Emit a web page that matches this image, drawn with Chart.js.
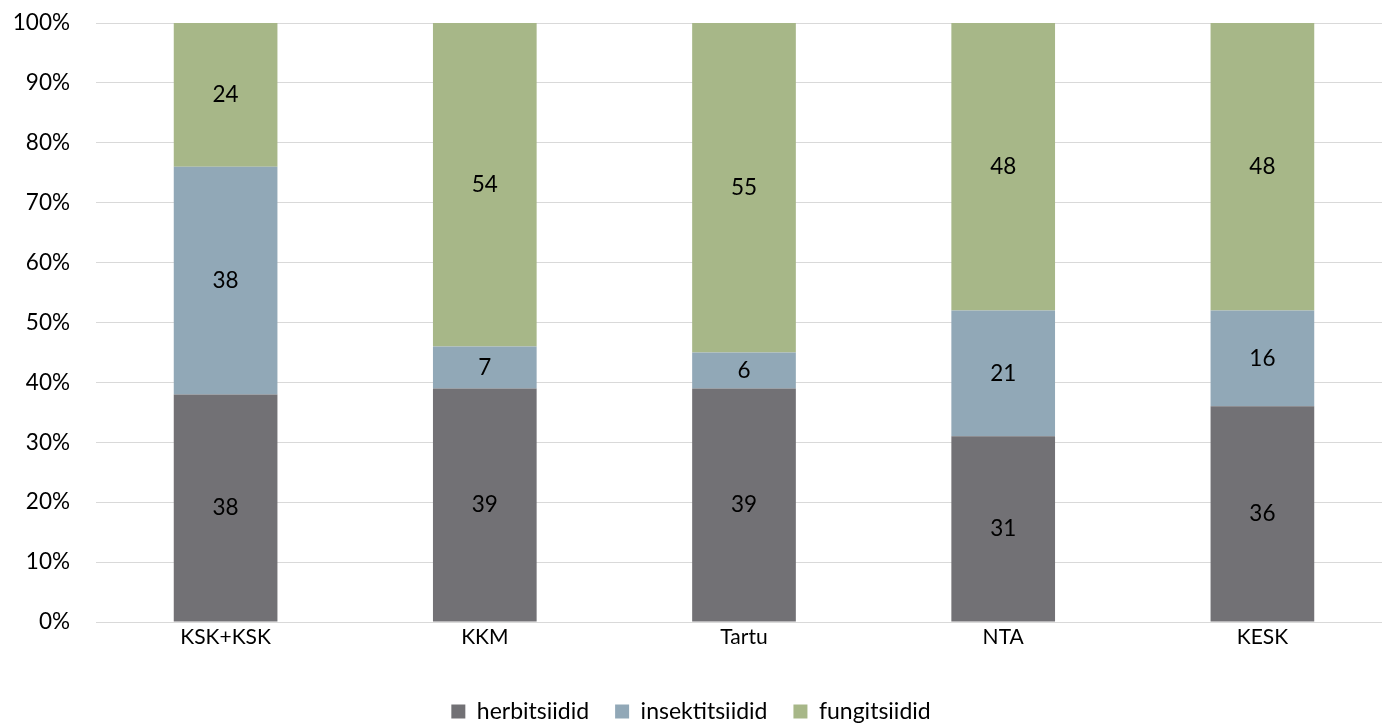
<!DOCTYPE html>
<html>
<head>
<meta charset="utf-8">
<script src="https://cdn.jsdelivr.net/npm/chart.js@4.4.1/dist/chart.umd.min.js"></script>
<style>
  html, body { margin: 0; padding: 0; background: #ffffff; overflow: hidden; }
  #wrap { width: 1382px; height: 723px; overflow: hidden; }
</style>
</head>
<body>
<div id="wrap"><canvas id="c" width="1392" height="733"></canvas></div>
<script>
// Regions and pesticide-group shares (%)
const categories = ['KSK+KSK', 'KKM', 'Tartu', 'NTA', 'KESK'];
const herbitsiidid = [38, 39, 39, 31, 36];
const insektitsiidid = [38, 7, 6, 21, 16];
const fungitsiidid = [24, 54, 55, 48, 48];
const yTicks = [0, 10, 20, 30, 40, 50, 60, 70, 80, 90, 100];

const FONT = 'Lato, "Open Sans", sans-serif';

// Writes each segment's value in the middle of its bar piece
const segmentLabels = {
  id: 'segmentLabels',
  afterDatasetsDraw(chart) {
    const ctx = chart.ctx;
    ctx.save();
    ctx.font = '22.5px ' + FONT;
    ctx.fillStyle = '#000000';
    ctx.textAlign = 'center';
    ctx.textBaseline = 'middle';
    chart.data.datasets.forEach((ds, di) => {
      const meta = chart.getDatasetMeta(di);
      meta.data.forEach((bar, i) => {
        const v = ds.data[i];
        const p = bar.getProps(['x', 'y', 'base'], true);
        ctx.fillText(String(v), p.x, (p.y + p.base) / 2);
      });
    });
    ctx.restore();
  }
};

// Centres the legend row on the visible page width
const legendShift = {
  id: 'legendShift',
  afterLayout(chart) {
    if (chart.legend) {
      chart.legend.left -= 11;
      chart.legend.right -= 11;
    }
  }
};

new Chart(document.getElementById('c'), {
  type: 'bar',
  data: {
    labels: categories,
    datasets: [
      { label: 'herbitsiidid', data: herbitsiidid, backgroundColor: '#727175' },
      { label: 'insektitsiidid', data: insektitsiidid, backgroundColor: '#91a8b7' },
      { label: 'fungitsiidid', data: fungitsiidid, backgroundColor: '#a7b788' }
    ]
  },
  options: {
    responsive: false,
    animation: false,
    devicePixelRatio: 1,
    layout: { padding: { top: 23, right: 0, left: 12, bottom: 0 } },
    datasets: { bar: { barPercentage: 0.40, categoryPercentage: 1.0, borderWidth: 0 } },
    scales: {
      x: {
        stacked: true,
        grid: { display: false, drawTicks: false },
        border: { display: true, color: '#d9d9d9', width: 1 },
        ticks: { color: '#000000', font: { family: FONT, size: 21 }, padding: 3 },
        afterFit(scale) { scale.height = 52; }
      },
      y: {
        stacked: true,
        min: 0,
        max: 100,
        afterBuildTicks(scale) { scale.ticks = yTicks.map(v => ({ value: v })); },
        grid: { color: '#d9d9d9', lineWidth: 1, drawTicks: false },
        border: { display: false },
        ticks: {
          color: '#000000',
          font: { family: FONT, size: 22.5 },
          padding: 26,
          callback: v => v + '%'
        },
        afterFit(scale) {
          scale.width = 84;
          scale.paddingTop = 0;
          scale.paddingBottom = 0;
        }
      }
    },
    plugins: {
      legend: {
        position: 'bottom',
        labels: {
          color: '#000000',
          font: { family: FONT, size: 23 },
          boxWidth: 14,
          boxHeight: 14,
          padding: 26
        }
      },
      tooltip: { enabled: false }
    }
  },
  plugins: [segmentLabels, legendShift]
});
</script>
</body>
</html>
